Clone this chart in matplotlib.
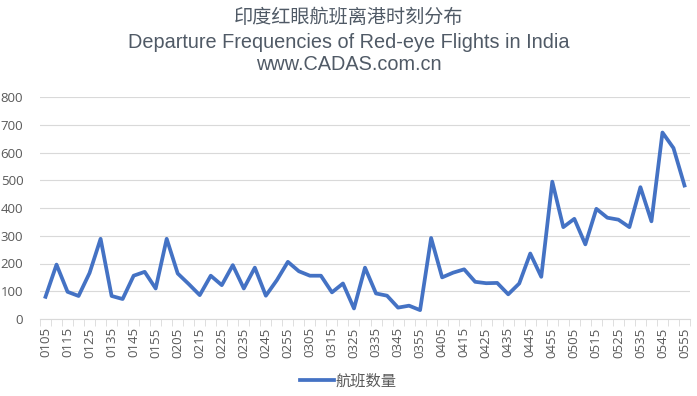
import numpy as np
import matplotlib.pyplot as plt

plt.rcParams['font.family'] = ['Open Sans', 'Noto Sans CJK SC', 'DejaVu Sans']

# departure times, every 5 minutes from 01:05 to 05:55
times = ['%02d%02d' % divmod(m, 60) for m in range(65, 356, 5)]

flights = [80, 196, 98, 83, 166, 289, 83, 72, 156, 170,
           110, 289, 164, 126, 86, 156, 122, 194, 110, 185,
           84, 140, 206, 172, 156, 156, 96, 128, 38, 185,
           92, 84, 41, 48, 32, 292, 150, 167, 179, 134,
           129, 130, 89, 128, 236, 152, 495, 331, 361, 269,
           397, 365, 358, 331, 475, 352, 672, 616, 481]

title_lines = ['印度红眼航班离港时刻分布',
               'Departure Frequencies of Red-eye Flights in India',
               'www.CADAS.com.cn']
series_name = '航班数量'

fig = plt.figure(figsize=(6.97, 3.96), dpi=100)
ax = fig.add_axes([40 / 697, 1 - 319 / 396, 650 / 697, 222 / 396])

x = np.arange(len(flights))
ax.plot(x, flights, color='#4472C4', linewidth=2.7, label=series_name,
        solid_joinstyle='round')

ax.set_xlim(-0.5, len(flights) - 0.5)
ax.set_ylim(0, 800)
ax.set_yticks(range(0, 801, 100))
ax.grid(axis='y', color='#d9d9d9', linewidth=0.8)
ax.set_axisbelow(True)

# category labels on every second point, tick marks between categories
ax.set_xticks(x[::2])
ax.set_xticklabels(times[::2], rotation=90)
ax.set_xticks(np.arange(-0.5, len(flights), 1), minor=True)
ax.tick_params(axis='x', which='major', length=0, pad=6, labelsize=9.5,
               labelcolor='#595959')
ax.tick_params(axis='x', which='minor', length=5, color='#d9d9d9')
ax.tick_params(axis='y', length=0, labelsize=9.5, labelcolor='#595959', pad=12)

for s in ['top', 'right', 'left']:
    ax.spines[s].set_visible(False)
ax.spines['bottom'].set_color('#d9d9d9')

title_color = '#505a66'
fig.text(0.5, 1 - 17 / 396, title_lines[0], ha='center', va='center',
         fontsize=13.8, color=title_color, family='Noto Sans CJK SC')
fig.text(0.5, 1 - 42 / 396, title_lines[1], ha='center', va='center',
         fontsize=14.3, color=title_color, family='Liberation Sans')
fig.text(0.5, 1 - 65 / 396, title_lines[2], ha='center', va='center',
         fontsize=14.3, color=title_color, family='Liberation Sans')

fig.legend(loc='center', bbox_to_anchor=(0.5, 1 - 382 / 396), frameon=False,
           fontsize=11, labelcolor='#595959', handlelength=2.2,
           handletextpad=0.1)

fig.savefig('out.png', dpi=100)
